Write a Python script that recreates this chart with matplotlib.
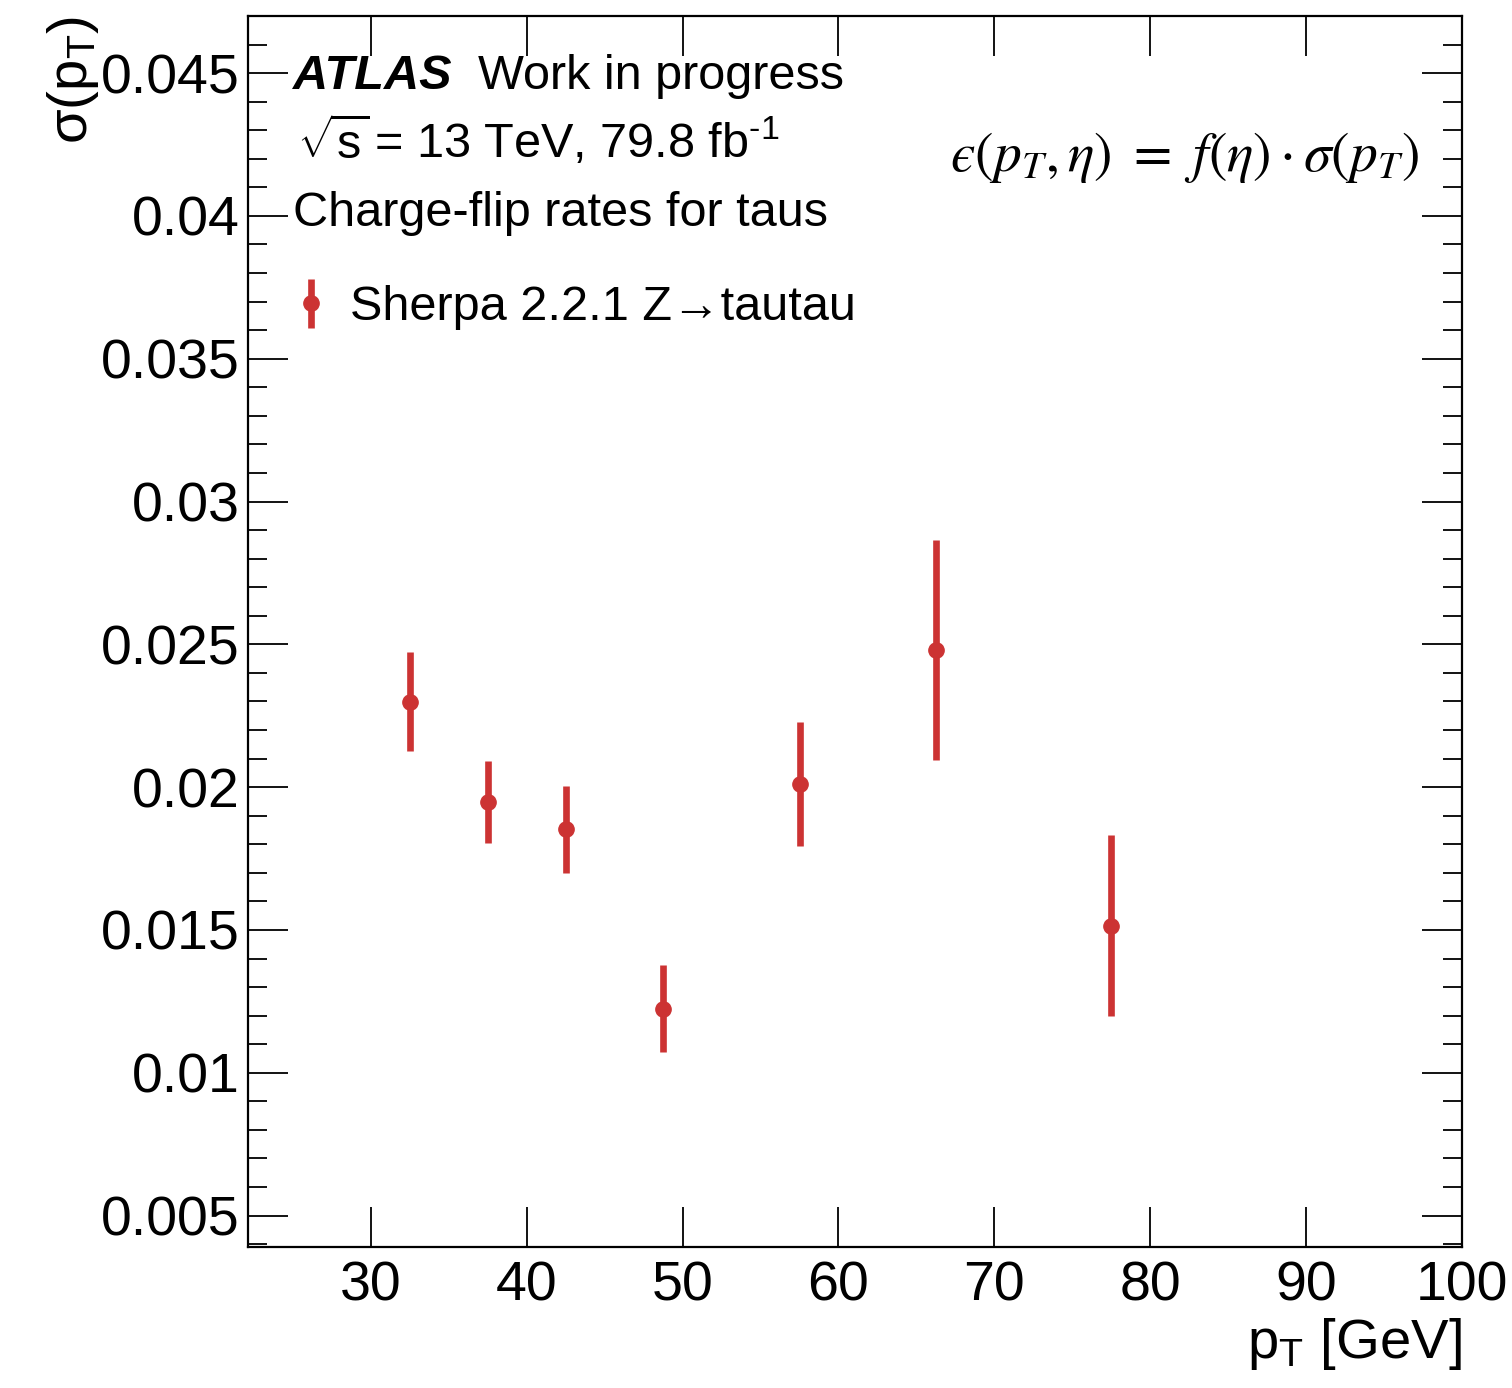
import numpy as np
import matplotlib
matplotlib.use('Agg')
import matplotlib.pyplot as plt
from matplotlib.ticker import MultipleLocator

plt.rcParams['font.family'] = ['Liberation Sans', 'DejaVu Sans']
plt.rcParams['mathtext.fontset'] = 'custom'
plt.rcParams['mathtext.rm'] = 'Liberation Sans'
plt.rcParams['mathtext.it'] = 'Liberation Sans:italic'
plt.rcParams['mathtext.bf'] = 'Liberation Sans:bold'

# charge-flip rate sigma(pT) per pT bin
pt_centers = [32.5, 37.5, 42.5, 48.75, 57.5, 66.25, 77.5]
sigma_vals = [0.02299, 0.01949, 0.01852, 0.01224, 0.02011, 0.02479, 0.01515]
sigma_errs = [0.00173, 0.00143, 0.00152, 0.00152, 0.00217, 0.00385, 0.00318]

red = '#cc3333'

fig = plt.figure(figsize=(15.12, 13.88), dpi=100)
ax = fig.add_axes([0.164, 0.1016, 0.8027, 0.8869])

ax.errorbar(pt_centers, sigma_vals, yerr=sigma_errs, fmt='o', color=red,
            ms=11, elinewidth=4.8, capsize=0, label='Sherpa 2.2.1 Z\u2192tautau')

ax.set_xlim(22.1, 100)
ax.set_ylim(0.0039, 0.047)
ax.xaxis.set_major_locator(MultipleLocator(10))
ax.yaxis.set_minor_locator(MultipleLocator(0.001))
ax.set_yticks(np.arange(0.005, 0.0451, 0.005))
ax.set_yticklabels(['0.005', '0.01', '0.015', '0.02', '0.025', '0.03', '0.035', '0.04', '0.045'])

ax.tick_params(which='both', direction='in', top=True, right=True, labelsize=40, width=1.3)
ax.tick_params(which='major', length=29)
ax.tick_params(which='minor', length=14)
ax.tick_params(axis='x', pad=10)
ax.tick_params(axis='y', pad=6)
for s in ax.spines.values():
    s.set_linewidth(1.6)

ax.set_xlabel('p$_\\mathregular{T}$ [GeV]', fontsize=40.5, loc='right', labelpad=2)
ax.set_ylabel('\u03c3(p$_\\mathregular{T}$)', fontsize=40.5, loc='top', labelpad=0)

fs = 35
ax.text(0.037, 0.9405, 'ATLAS', transform=ax.transAxes, fontsize=fs,
        fontweight='bold', fontstyle='italic', va='baseline')
ax.text(0.1895, 0.9405, 'Work in progress', transform=ax.transAxes, fontsize=fs, va='baseline')
ax.text(0.040, 0.8850, '$\\sqrt{\\mathregular{s}}\\!$ = 13 TeV, 79.8 fb$^{\\text{-1}}$',
        transform=ax.transAxes, fontsize=fs, va='baseline')
ax.text(0.037, 0.8295, 'Charge-flip rates for taus', transform=ax.transAxes,
        fontsize=fs, va='baseline')
ax.text(0.965, 0.885, '$\u03f5(p_T,\\eta)\\ =\\ f(\\eta)\\cdot\\sigma(p_T)$', transform=ax.transAxes,
        fontsize=40, ha='right', va='center', math_fontfamily='stix')

leg = ax.legend(loc='upper left', bbox_to_anchor=(0.02, 0.797), frameon=False,
                fontsize=fs, handlelength=0.8, handletextpad=0.4, borderaxespad=0)

fig.savefig('out.png', dpi=100)
